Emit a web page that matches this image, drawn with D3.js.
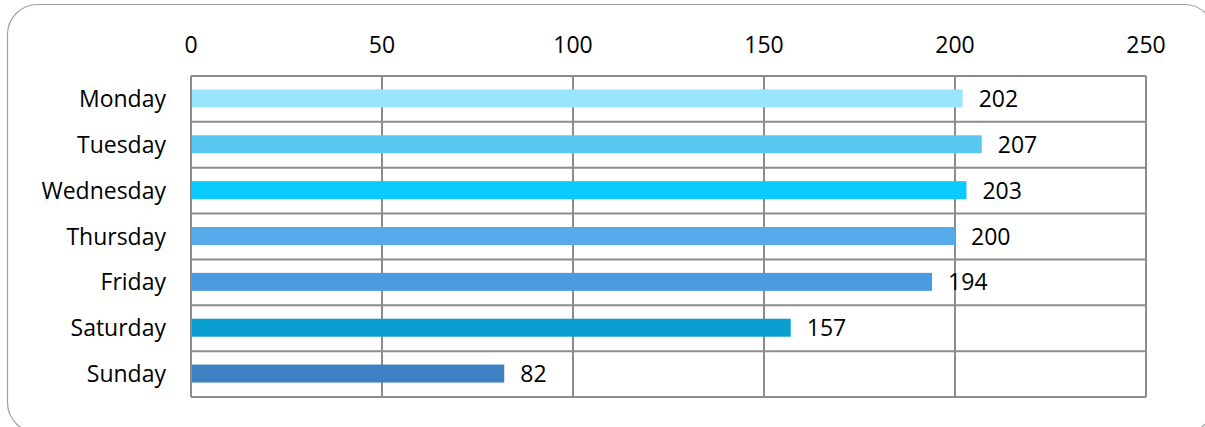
<!DOCTYPE html>
<html>
<head>
<meta charset="utf-8">
<script src="https://cdn.jsdelivr.net/npm/d3@7"></script>
<style>
  html, body { margin: 0; padding: 0; background: #fff; overflow: hidden; }
  svg { display: block; font-family: "Open Sans", "Noto Sans", sans-serif; }
</style>
</head>
<body>
<div id="chart"></div>
<script>
const days   = ["Monday", "Tuesday", "Wednesday", "Thursday", "Friday", "Saturday", "Sunday"];
const counts = [202, 207, 203, 200, 194, 157, 82];
const colors = ["#99e5fd", "#59c8f0", "#0acbfd", "#56aae9", "#4a9be0", "#0b9ed1", "#3d81c2"];
const ticks  = [0, 50, 100, 150, 200, 250];

const W = 1205, H = 427;
const m = { left: 191, right: 1146, top: 76, bottom: 397 };
const fs = 23;

const svg = d3.select("#chart").append("svg")
  .attr("width", W).attr("height", H);

// outer frame (runs slightly past the right and bottom edges, as in the source)
svg.append("rect")
  .attr("x", 7.5).attr("y", 4.5)
  .attr("width", 1207).attr("height", 428)
  .attr("rx", 30).attr("ry", 30)
  .attr("fill", "#fff")
  .attr("stroke", "#a0a0a0").attr("stroke-width", 1.2);

const x = d3.scaleLinear().domain([0, 250]).range([m.left, m.right]);
const y = d3.scaleBand().domain(days).range([m.top, m.bottom]).paddingInner(0).paddingOuter(0);

const grid = svg.append("g").attr("stroke", "#8c8c8c").attr("stroke-width", 2);

// vertical grid lines
grid.selectAll("line.v")
  .data(ticks)
  .join("line")
  .attr("class", "v")
  .attr("x1", d => x(d)).attr("x2", d => x(d))
  .attr("y1", m.top).attr("y2", m.bottom);

// horizontal lines at category boundaries
const bounds = days.map(d => y(d)).concat([m.bottom]);
grid.selectAll("line.h")
  .data(bounds)
  .join("line")
  .attr("class", "h")
  .attr("x1", m.left).attr("x2", m.right)
  .attr("y1", d => d).attr("y2", d => d);

// top axis labels
svg.append("g")
  .selectAll("text")
  .data(ticks)
  .join("text")
  .attr("x", d => x(d))
  .attr("y", 53)
  .attr("text-anchor", "middle")
  .attr("font-size", fs)
  .attr("fill", "#000")
  .text(d => d);

// category labels
svg.append("g")
  .selectAll("text")
  .data(days)
  .join("text")
  .attr("x", 166)
  .attr("y", d => y(d) + y.bandwidth() / 2)
  .attr("dy", "0.35em")
  .attr("text-anchor", "end")
  .attr("font-size", fs)
  .attr("fill", "#000")
  .text(d => d);

// bars
const barH = 18;
svg.append("g")
  .selectAll("rect")
  .data(days)
  .join("rect")
  .attr("x", x(0) + 1)
  .attr("y", d => y(d) + y.bandwidth() / 2 - barH / 2 - 0.5)
  .attr("width", (d, i) => x(counts[i]) - x(0) - 1)
  .attr("height", barH)
  .attr("fill", (d, i) => colors[i]);

// value labels
svg.append("g")
  .selectAll("text")
  .data(days)
  .join("text")
  .attr("x", (d, i) => x(counts[i]) + 16)
  .attr("y", d => y(d) + y.bandwidth() / 2)
  .attr("dy", "0.35em")
  .attr("font-size", fs)
  .attr("fill", "#000")
  .text((d, i) => counts[i]);
</script>
</body>
</html>
